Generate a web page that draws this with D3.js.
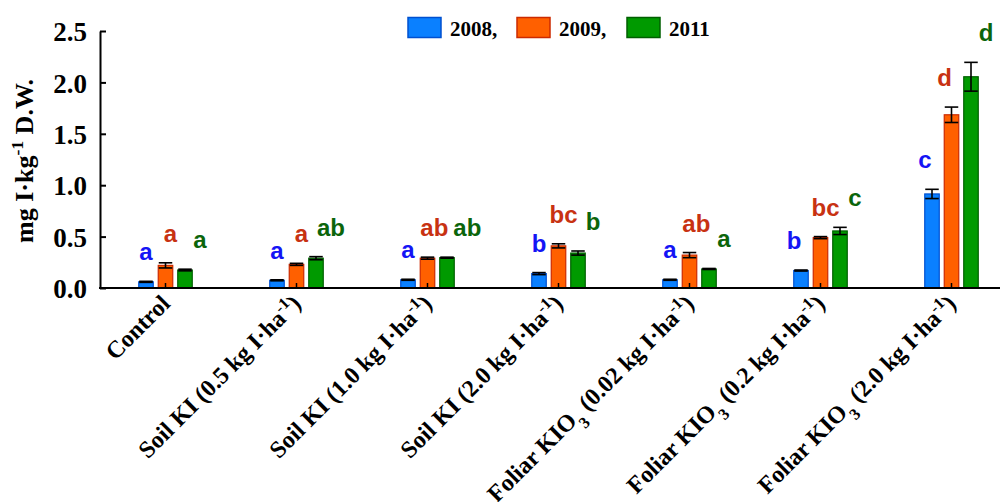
<!DOCTYPE html>
<html>
<head>
<meta charset="utf-8">
<script src="https://cdn.jsdelivr.net/npm/d3@7"></script>
<style>
  html, body { margin: 0; padding: 0; background: #fff; }
  svg { display: block; }
</style>
</head>
<body>
<svg id="chart" width="1006" height="502"></svg>
<script>
// Treatments (^{...} marks a superscript, _{...} a subscript)
const categories = [
  "Control",
  "Soil KI (0.5 kg I·ha^{-1})",
  "Soil KI (1.0 kg I·ha^{-1})",
  "Soil KI (2.0 kg I·ha^{-1})",
  "Foliar KIO_{3} (0.02 kg I·ha^{-1})",
  "Foliar KIO_{3} (0.2 kg I·ha^{-1})",
  "Foliar KIO_{3} (2.0 kg I·ha^{-1})"
];
const years = ["2008,", "2009,", "2011"];

// Iodine content, mg I·kg-1 D.W. (means and standard errors)
const values2008 = [0.06, 0.075, 0.08, 0.14, 0.08, 0.17, 0.915];
const values2009 = [0.22, 0.23, 0.29, 0.41, 0.32, 0.49, 1.685];
const values2011 = [0.175, 0.29, 0.295, 0.34, 0.185, 0.555, 2.055];
const err2008 = [0.005, 0.005, 0.005, 0.01, 0.005, 0.005, 0.045];
const err2009 = [0.025, 0.01, 0.01, 0.02, 0.025, 0.01, 0.075];
const err2011 = [0.008, 0.015, 0.005, 0.02, 0.005, 0.035, 0.14];

// Significance letters
const letters2008 = ["a", "a", "a", "b", "a", "b", "c"];
const letters2009 = ["a", "a", "ab", "bc", "ab", "bc", "d"];
const letters2011 = ["a", "ab", "ab", "b", "a", "c", "d"];

const yTicks = [0, 0.5, 1.0, 1.5, 2.0, 2.5];

const series = [
  { name: years[0], values: values2008, errs: err2008, letters: letters2008,
    fill: "#0a80ff", stroke: "#0050d0", text: "#1414f5" },
  { name: years[1], values: values2009, errs: err2009, letters: letters2009,
    fill: "#ff6000", stroke: "#cc2a00", text: "#c83212" },
  { name: years[2], values: values2011, errs: err2011, letters: letters2011,
    fill: "#009a00", stroke: "#005f00", text: "#0b650b" }
];

const svg = d3.select("#chart");
const serif = "'Liberation Serif', 'Times New Roman', serif";
const sans = "'Liberation Sans', Arial, sans-serif";

const x = d3.scaleBand().domain(categories).range([100, 1017]).padding(0);
const y = d3.scaleLinear().domain([0, 2.5]).range([288, 31]);

const barW = 14.5, barGap = 19.5;
const labelDx = [0, 5, 15];
const labelLift = 21;
const cx = c => x(c) + x.bandwidth() / 2;

const letterNodes = categories.map(() => []);

// Bars, error bars and letters
series.forEach((s, si) => {
  const g = svg.append("g");
  const next = series[si + 1];
  const rows = categories.map((c, i) => {
    const top = y(s.values[i] + s.errs[i]);
    // letters move left when the neighbouring bar to the right reaches above them
    const blocked = next && y(next.values[i] + next.errs[i]) < top - labelLift - 10;
    return {
      c, i, v: s.values[i], e: s.errs[i], l: s.letters[i],
      xc: cx(c) + (si - 1) * barGap,
      dx: blocked ? -7 : labelDx[si]
    };
  });
  g.selectAll("rect").data(rows).join("rect")
    .attr("x", d => d.xc - barW / 2)
    .attr("y", d => y(d.v))
    .attr("width", barW)
    .attr("height", d => y(0) - y(d.v))
    .attr("fill", s.fill)
    .attr("stroke", s.stroke)
    .attr("stroke-width", 1.2);

  const eb = g.selectAll("g.err").data(rows).join("g").attr("class", "err")
    .attr("stroke", "#000").attr("stroke-width", 1.6);
  eb.append("line")
    .attr("x1", d => d.xc).attr("x2", d => d.xc)
    .attr("y1", d => y(d.v - d.e)).attr("y2", d => y(d.v + d.e));
  eb.append("line")
    .attr("x1", d => d.xc - barW / 2 + 0.5).attr("x2", d => d.xc + barW / 2 - 0.5)
    .attr("y1", d => y(d.v + d.e)).attr("y2", d => y(d.v + d.e));
  eb.append("line")
    .attr("x1", d => d.xc - barW / 2 + 0.5).attr("x2", d => d.xc + barW / 2 - 0.5)
    .attr("y1", d => y(d.v - d.e)).attr("y2", d => y(d.v - d.e));

  g.selectAll("text").data(rows).join("text")
    .attr("x", d => d.xc + d.dx)
    .attr("y", d => y(d.v + d.e) - labelLift)
    .attr("text-anchor", "middle")
    .attr("font-family", sans)
    .attr("font-weight", "bold")
    .attr("font-size", 24)
    .attr("fill", s.text)
    .text(d => d.l)
    .each(function (d) { letterNodes[d.i][si] = this; });
});

// Keep neighbouring letters within a group from touching
letterNodes.forEach(nodes => {
  for (let k = 1; k < nodes.length; k++) {
    const a = nodes[k - 1].getBBox(), b = nodes[k].getBBox();
    const vOverlap = a.y < b.y + b.height && b.y < a.y + a.height;
    const gap = b.x - (a.x + a.width);
    if (vOverlap && gap < 5) {
      const t = d3.select(nodes[k]);
      t.attr("x", +t.attr("x") + (5 - gap));
    }
  }
});

// Y axis: ticks point inward
const yAxis = d3.axisLeft(y).tickValues(yTicks).tickFormat(d3.format(".1f"))
  .tickSizeInner(-6).tickSizeOuter(0).tickPadding(13);
const yG = svg.append("g").attr("transform", "translate(100,0)").call(yAxis);
yG.select(".domain").attr("stroke", "#000").attr("stroke-width", 2);
yG.selectAll(".tick line").attr("stroke", "#000").attr("stroke-width", 2);
yG.selectAll(".tick text")
  .attr("font-family", serif).attr("font-weight", "bold")
  .attr("font-size", 27).attr("fill", "#000").attr("dy", "0.36em");

// X axis line with short inward ticks at group centres
svg.append("line")
  .attr("x1", 99).attr("x2", 1000).attr("y1", y(0)).attr("y2", y(0))
  .attr("stroke", "#000").attr("stroke-width", 2);
svg.append("g").selectAll("line").data(categories).join("line")
  .attr("x1", d => cx(d)).attr("x2", d => cx(d))
  .attr("y1", y(0)).attr("y2", y(0) - 5)
  .attr("stroke", "#000").attr("stroke-width", 1.5);

// Rich text helper for super/subscripts
function richText(sel, str, size) {
  const parts = str.split(/(\^\{[^}]*\}|_\{[^}]*\})/).filter(p => p.length);
  parts.forEach(p => {
    if (p.startsWith("^{")) {
      sel.append("tspan").attr("font-size", size * 0.68)
        .attr("baseline-shift", "super").text(p.slice(2, -1));
    } else if (p.startsWith("_{")) {
      sel.append("tspan").attr("font-size", size * 0.68)
        .attr("baseline-shift", "sub").text(p.slice(2, -1));
    } else {
      sel.append("tspan").text(p);
    }
  });
}

// Category labels, rotated
svg.append("g").selectAll("text").data(categories).join("text")
  .attr("transform", d => `translate(${cx(d) + 6},305) rotate(-45)`)
  .attr("text-anchor", "end")
  .attr("font-family", serif)
  .attr("font-weight", "bold")
  .attr("font-size", 24)
  .attr("fill", "#000")
  .each(function (d) { richText(d3.select(this), d, 24); });

// Y axis title
const yt = svg.append("text")
  .attr("transform", "translate(33,161) rotate(-90)")
  .attr("text-anchor", "middle")
  .attr("font-family", serif)
  .attr("font-weight", "bold")
  .attr("font-size", 26)
  .attr("fill", "#000");
richText(yt, "mg I·kg^{-1} D.W.", 26);

// Legend
const legendX = [408, 517, 627];
const lg = svg.append("g").selectAll("g").data(series).join("g")
  .attr("transform", (d, i) => `translate(${legendX[i]},17.5)`);
lg.append("rect").attr("width", 33).attr("height", 20)
  .attr("fill", d => d.fill).attr("stroke", d => d.stroke).attr("stroke-width", 1.5);
lg.append("text").attr("x", 42).attr("y", 18)
  .attr("font-family", serif).attr("font-weight", "bold").attr("font-size", 21)
  .attr("fill", "#000").text(d => d.name);
</script>
</body>
</html>
